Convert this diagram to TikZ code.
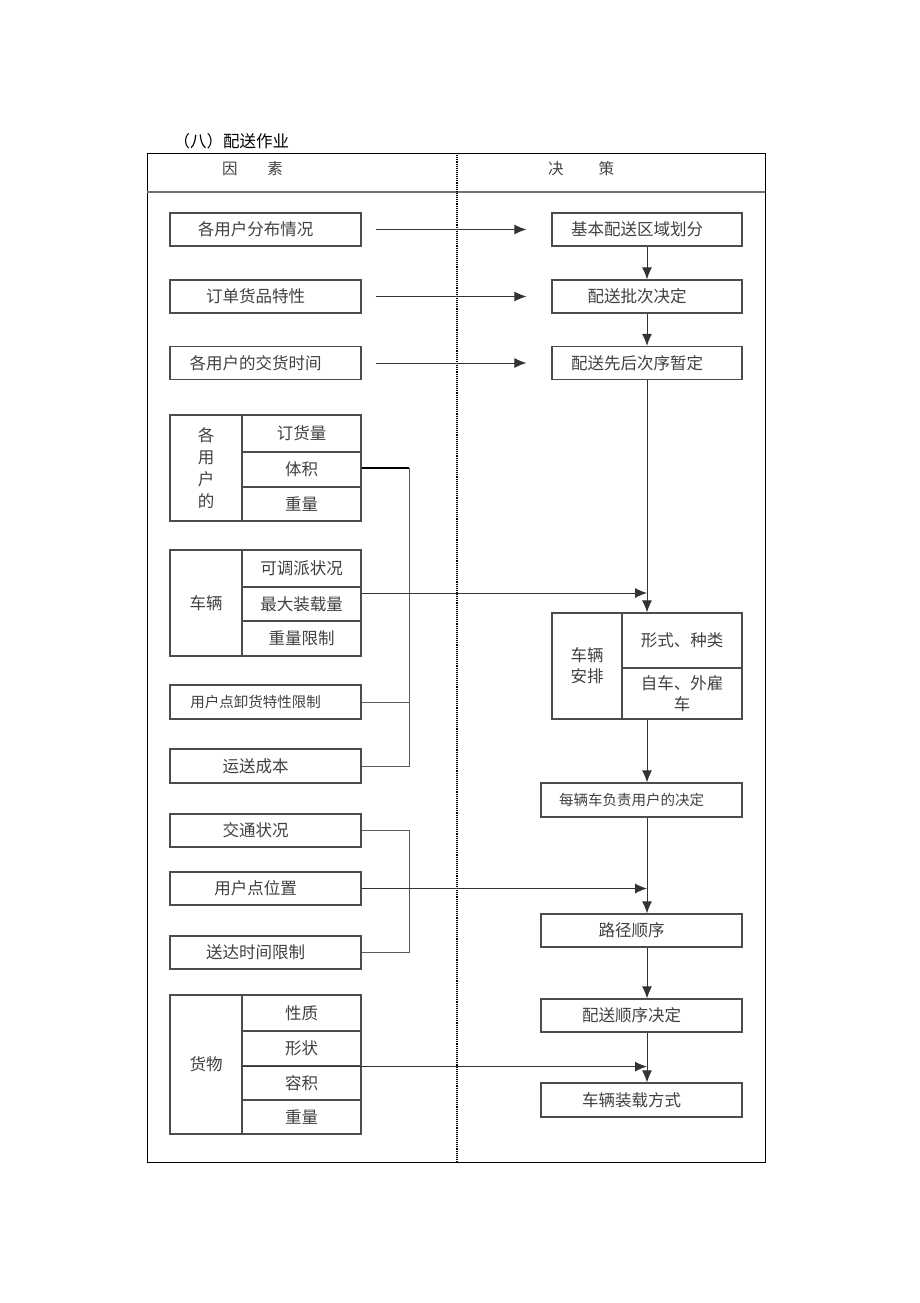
\documentclass[tikz,border=0pt]{standalone}
\usepackage{fontspec}
\setmainfont{Noto Sans CJK SC}
\usetikzlibrary{arrows.meta}

\begin{document}
\begin{tikzpicture}[x=1pt,y=-1pt]
        % Define styles
        \tikzset{
            box/.style={rectangle, draw=black!70, line width=1.2pt, inner sep=0pt, text=black!75, font=\fontsize{16.5}{19}\selectfont},
            leftish/.style={execute at begin node={\hspace*{-20pt}}},
            factor/.style={box, leftish, minimum width=191pt, minimum height=33pt},
            decision/.style={box, leftish, minimum width=190pt, minimum height=33pt},
            wide/.style={box, leftish, minimum width=201pt, minimum height=34pt},
            group/.style={box, minimum width=72pt, align=center},
            cell/.style={box, minimum width=119pt},
            arrow/.style={-{Latex[length=12pt,width=10pt]}, line width=1pt, draw=black!80},
            link/.style={line width=1pt, draw=black!65}
        }
        \useasboundingbox (0,0) rectangle (920,1303);

        % Frame
        \draw[line width=1pt] (147,153) rectangle (765,1162);
        \draw[line width=1.1pt, draw=black!55] (147,192) -- (765,192);
        \draw[line width=1.1pt, densely dotted] (457,153) -- (457,1162);

        % Nodes
        \node[anchor=west, font=\fontsize{16.5}{18}\selectfont] (title) at (170,141) {（八）配送作业};
        \node[text=black!75, font=\fontsize{15.5}{18}\selectfont] (factor_head) at (252.5,169) {因\hspace{30pt}素};
        \node[text=black!75, font=\fontsize{15.5}{18}\selectfont] (decision_head) at (581,169) {决\hspace{35pt}策};

        \node[factor] (factor_node_1) at (265.5,229.5) {各用户分布情况};
        \node[factor] (factor_node_2) at (265.5,296.5) {订单货品特性};
        \node[factor] (factor_node_3) at (265.5,363) {各用户的交货时间};

        \node[decision] (decision_node_1) at (647,229.5) {基本配送区域划分};
        \node[decision] (decision_node_2) at (647,296.5) {配送批次决定};
        \node[decision] (decision_node_3) at (647,363) {配送先后次序暂定};

        \node[group, minimum height=106pt, font=\fontsize{16.5}{22}\selectfont] (user_group) at (206,468) {各\\用\\户\\的};
        \node[cell, minimum height=37pt] (cell_amount) at (301.5,433.5) {订货量};
        \node[cell, minimum height=35pt] (cell_volume) at (301.5,469.5) {体积};
        \node[cell, minimum height=34pt] (cell_weight) at (301.5,504) {重量};

        \node[group, minimum height=106pt] (vehicle_group) at (206,603) {车辆};
        \node[cell, minimum height=37pt] (cell_dispatch) at (301.5,568.5) {可调派状况};
        \node[cell, minimum height=34pt] (cell_maxload) at (301.5,604) {最大装载量};
        \node[cell, minimum height=35pt] (cell_limit) at (301.5,638.5) {重量限制};

        \node[factor, minimum height=34pt, font=\fontsize{14.5}{16}\selectfont] (unload_node) at (265.5,702) {用户点卸货特性限制};
        \node[factor, minimum height=34pt] (cost_node) at (265.5,766) {运送成本};

        \node[box, align=center, minimum width=70pt, minimum height=106pt, font=\fontsize{16.5}{21}\selectfont] (plan_group) at (587,666) {车辆\\安排};
        \node[box, minimum width=120pt, minimum height=55pt] (cell_form) at (682,640.5) {形式、种类};
        \node[box, align=center, minimum width=120pt, minimum height=51pt, font=\fontsize{16.5}{21}\selectfont] (cell_own) at (682,693.5) {自车、外雇\\车};

        \node[wide, font=\fontsize{14.5}{16}\selectfont] (assign_node) at (641.5,800) {每辆车负责用户的决定};

        \node[factor] (traffic_node) at (265.5,830.5) {交通状况};
        \node[factor] (location_node) at (265.5,888.5) {用户点位置};
        \node[factor] (deadline_node) at (265.5,952.5) {送达时间限制};

        \node[wide, minimum height=33pt] (route_node) at (641.5,930.5) {路径顺序};
        \node[wide, minimum height=33pt] (order_node) at (641.5,1015.5) {配送顺序决定};
        \node[wide] (loading_node) at (641.5,1100) {车辆装载方式};

        \node[group, minimum height=139pt] (goods_group) at (206,1064.5) {货物};
        \node[cell, minimum height=36pt] (cell_nature) at (301.5,1013) {性质};
        \node[cell, minimum height=35pt] (cell_shape) at (301.5,1048.5) {形状};
        \node[cell, minimum height=34pt] (cell_capacity) at (301.5,1083) {容积};
        \node[cell, minimum height=34pt] (cell_goodsweight) at (301.5,1117) {重量};

        \coordinate (bus_1) at (409,0);
        \coordinate (spine) at (647,0);

        % Arrows
        \draw[arrow, shorten <=14pt, shorten >=25pt] (factor_node_1.east) -- (decision_node_1.west);
        \draw[arrow, shorten <=14pt, shorten >=25pt] (factor_node_2.east) -- (decision_node_2.west);
        \draw[arrow, shorten <=14pt, shorten >=25pt] (factor_node_3.east) -- (decision_node_3.west);
        \draw[arrow] (decision_node_1) -- (decision_node_2);
        \draw[arrow] (decision_node_2) -- (decision_node_3);
        \draw[arrow] (decision_node_3) -- (cell_form.north -| spine);

        \draw[line width=2pt] ([yshift=2pt]cell_volume.east) -- ([yshift=2pt]cell_volume.east -| bus_1);
        \draw[link] ([yshift=2pt]cell_volume.east -| bus_1) -- (cost_node.east -| bus_1) -- (cost_node.east);
        \draw[link] (unload_node.east) -- (unload_node.east -| bus_1);
        \draw[arrow] ([yshift=11pt]cell_maxload.east) -- ([yshift=11pt]cell_maxload.east -| spine);

        \draw[arrow] (cell_own.south -| spine) -- (assign_node.north -| spine);
        \draw[link] (traffic_node.east) -- (traffic_node.east -| bus_1) -- (deadline_node.east -| bus_1) -- (deadline_node.east);
        \draw[arrow] (location_node.east) -- (location_node.east -| spine);
        \draw[arrow] (assign_node.south -| spine) -- (route_node.north -| spine);
        \draw[arrow] (route_node.south -| spine) -- (order_node.north -| spine);
        \draw[arrow] (order_node.south -| spine) -- (loading_node.north -| spine);
        \draw[arrow] (cell_shape.south west) -- (cell_shape.south west -| spine);
    \end{tikzpicture}
\end{document}
